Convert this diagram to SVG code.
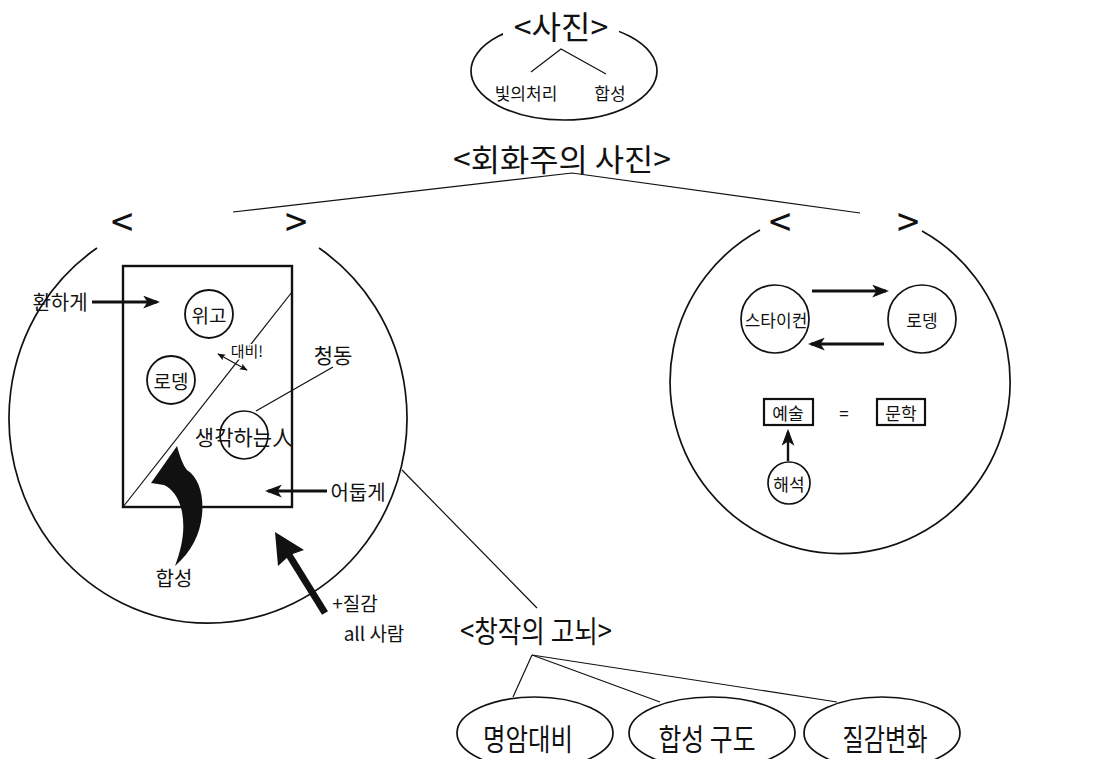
<svg xmlns="http://www.w3.org/2000/svg" width="1101" height="759" viewBox="0 0 1101 759">
  <style>
    text { font-family: "Noto Sans CJK KR", "Noto Sans", sans-serif; fill: #111; text-anchor: middle; dominant-baseline: central; }
    .bracket { font-size: 40px; }
    .ring { fill: none; stroke: #111; stroke-width: 1.7; }
    .node { fill: #fff; stroke: #111; stroke-width: 1.8; }
    .box { fill: #fff; stroke: #111; stroke-width: 2.2; }
    .link { fill: none; stroke: #111; stroke-width: 1.2; }
    .arrow { fill: none; stroke: #111; stroke-width: 3; marker-end: url(#head); }
    .solid { fill: #111; stroke: none; }
  </style>
  <defs>
    <marker id="head" viewBox="0 0 16 12" refX="13" refY="6" markerWidth="17" markerHeight="13" markerUnits="userSpaceOnUse" orient="auto">
      <path d="M0,0 L16,6 L0,12 L4,6 Z" fill="#111"/>
    </marker>
    <marker id="tiny" viewBox="0 0 10 8" refX="9" refY="4" markerWidth="8" markerHeight="7" markerUnits="userSpaceOnUse" orient="auto-start-reverse">
      <path d="M0,0 L10,4 L0,8 L2,4 Z" fill="#111"/>
    </marker>
  </defs>
  <rect width="1101" height="759" fill="#fff"/>

  <!-- connectors -->
  <g id="connectors">
    <polyline class="link" points="531,72 561,49 606,74"/>
    <polyline class="link" points="233,212 572,173 860,213"/>
    <line class="link" x1="402" y1="470" x2="537" y2="608"/>
    <line class="link" x1="256" y1="411" x2="333" y2="367"/>
    <line class="link" x1="532" y1="655" x2="513" y2="697"/>
    <line class="link" x1="532" y1="655" x2="660" y2="702"/>
    <line class="link" x1="532" y1="655" x2="837" y2="702"/>
  </g>

  <!-- photography -->
  <g id="photo">
    <ellipse class="ring" cx="564" cy="71" rx="93" ry="49"/>
    <rect x="503" y="8" width="116" height="38" fill="#fff"/>
    <text x="561" y="25" font-size="32">&lt;사진&gt;</text>
    <text x="526" y="92" font-size="17">빛의처리</text>
    <text x="610" y="92" font-size="17">합성</text>
  </g>

  <g id="pictorialism">
    <text x="562" y="157" font-size="31" textLength="218" lengthAdjust="spacingAndGlyphs">&lt;회화주의 사진&gt;</text>
  </g>

  <!-- left theme circle -->
  <g id="left-theme">
    <text class="bracket" x="122" y="220">&lt;</text>
    <text class="bracket" x="296" y="220">&gt;</text>
    <path class="ring" d="M97,248 A199,205 0 1 0 319,248"/>
    <rect x="123" y="266" width="169" height="241" fill="none" stroke="#111" stroke-width="2.4"/>
    <line class="link" x1="123" y1="507" x2="292" y2="292"/>
  </g>

  <g id="hugo">
    <circle class="node" cx="209" cy="314" r="24"/>
    <text x="209" y="314" font-size="19">위고</text>
  </g>
  <g id="rodin-left">
    <circle class="node" cx="171" cy="380" r="24"/>
    <text x="171" y="380" font-size="19">로뎅</text>
  </g>
  <g id="thinker">
    <circle class="ring" cx="244" cy="435" r="24"/>
    <text x="244" y="436" font-size="21">생각하는人</text>
  </g>
  <g id="contrast">
    <line x1="218" y1="354" x2="247" y2="370" stroke="#111" stroke-width="1.2" marker-start="url(#tiny)" marker-end="url(#tiny)"/>
    <text x="247" y="350" font-size="15" style="paint-order:stroke" stroke="#fff" stroke-width="3">대비!</text>
  </g>
  <g id="bronze">
    <text x="333" y="354" font-size="21">청동</text>
  </g>
  <g id="brighter">
    <text x="60" y="301" font-size="20">환하게</text>
    <line class="arrow" x1="92" y1="302" x2="157" y2="302"/>
  </g>
  <g id="darker">
    <text x="358" y="491" font-size="20">어둡게</text>
    <line class="arrow" x1="327" y1="491" x2="268" y2="491"/>
  </g>
  <g id="composite">
    <path class="solid" d="M177,446 C180,457 183,465 187,470 C199,478 204,495 202,515 C200,535 191,552 175,566 C183,545 185,528 182,512 C179,497 172,489 164,485 L151,483 Z"/>
    <text x="174" y="577" font-size="20">합성</text>
  </g>
  <g id="texture">
    <line x1="325" y1="613" x2="289" y2="555" stroke="#111" stroke-width="7"/>
    <path class="solid" d="M275,532 L304,550 L290,555 L278,566 Z"/>
    <text x="355" y="602" font-size="19">+질감</text>
    <text x="374" y="632" font-size="19">all 사람</text>
  </g>

  <!-- right theme circle -->
  <g id="right-theme">
    <text class="bracket" x="780" y="220">&lt;</text>
    <text class="bracket" x="908" y="220">&gt;</text>
    <path class="ring" d="M760,230 A170,172 0 1 0 922,231"/>
  </g>
  <g id="steichen">
    <circle class="ring" cx="775" cy="319" r="34"/>
    <text x="776" y="319" font-size="17">스타이컨</text>
  </g>
  <g id="rodin-right">
    <circle class="ring" cx="922" cy="319" r="34"/>
    <text x="922" y="319" font-size="17">로뎅</text>
  </g>
  <g id="exchange">
    <line class="arrow" x1="812" y1="291" x2="886" y2="291"/>
    <line class="arrow" x1="884" y1="344" x2="811" y2="344"/>
  </g>
  <g id="art">
    <rect class="box" x="764" y="399" width="49" height="26"/>
    <text x="788" y="412" font-size="17">예술</text>
  </g>
  <text x="844" y="412" font-size="17">=</text>
  <g id="literature">
    <rect class="box" x="877" y="399" width="48" height="26"/>
    <text x="901" y="412" font-size="17">문학</text>
  </g>
  <g id="interpretation">
    <line x1="788" y1="461" x2="788" y2="432" stroke="#111" stroke-width="2.4" marker-end="url(#head)"/>
    <circle class="ring" cx="789" cy="483" r="21"/>
    <text x="789" y="483" font-size="17">해석</text>
  </g>

  <!-- creative struggle -->
  <g id="struggle">
    <text x="536" y="629" font-size="30" textLength="152" lengthAdjust="spacingAndGlyphs">&lt;창작의 고뇌&gt;</text>
  </g>
  <g id="chiaroscuro">
    <ellipse class="ring" cx="535" cy="733" rx="78" ry="36"/>
    <text x="528" y="737" font-size="30" textLength="90" lengthAdjust="spacingAndGlyphs">명암대비</text>
  </g>
  <g id="composition">
    <ellipse class="ring" cx="712" cy="733" rx="83" ry="36"/>
    <text x="707" y="737" font-size="30" textLength="97" lengthAdjust="spacingAndGlyphs">합성 구도</text>
  </g>
  <g id="texture-change">
    <ellipse class="ring" cx="882" cy="733" rx="78" ry="36"/>
    <text x="885" y="737" font-size="30" textLength="85" lengthAdjust="spacingAndGlyphs">질감변화</text>
  </g>
</svg>
